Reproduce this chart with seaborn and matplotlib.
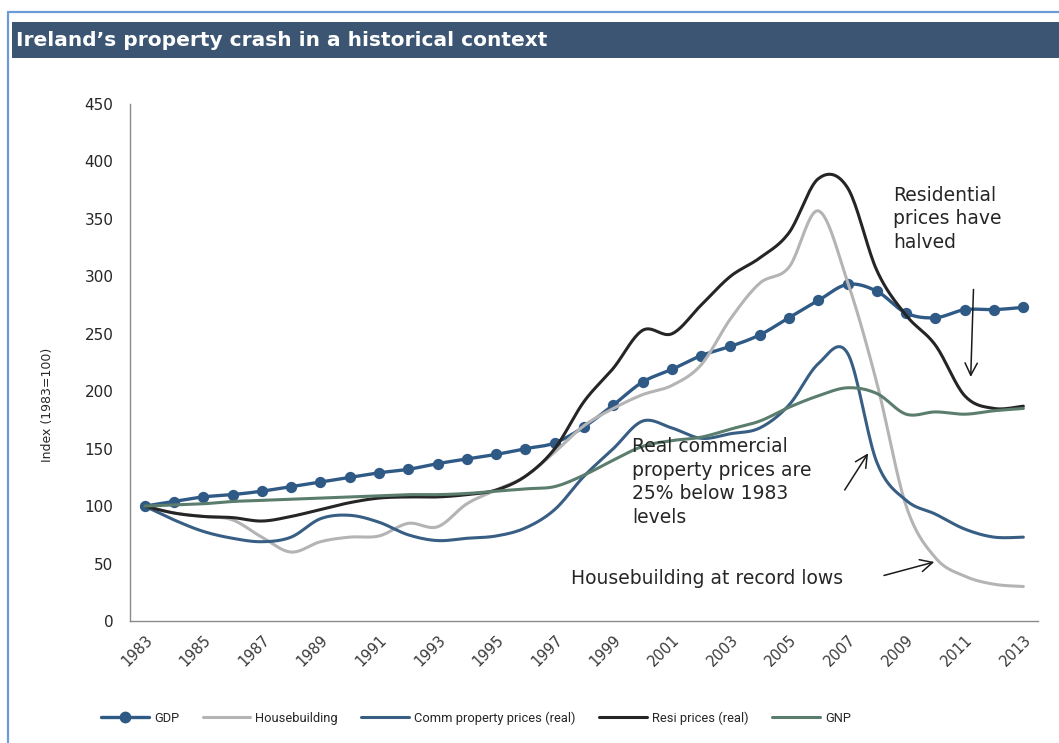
import numpy as np
import pandas as pd
import matplotlib
matplotlib.use("Agg")
import matplotlib.pyplot as plt
from matplotlib.lines import Line2D
from matplotlib.patches import Rectangle
from matplotlib import font_manager
import seaborn as sns

# ---- data (index, 1983 = 100) ----
years = list(range(1983, 2014))
gdp = [100, 104, 108, 110, 113, 117, 121, 125, 129, 132, 137, 141, 145, 150, 155,
       169, 188, 208, 219, 231, 239, 249, 264, 279, 293, 287, 268, 264, 271, 271, 273]
housebuilding = [100, 94, 91, 88, 73, 60, 69, 73, 74, 85, 82, 102, 114, 126, 147,
                 170, 185, 197, 205, 223, 263, 294, 308, 357, 295, 207, 100, 55, 39, 32, 30]
comm_prices = [100, 88, 78, 72, 69, 73, 89, 92, 86, 75, 70, 72, 74, 81, 97,
               126, 150, 174, 168, 159, 163, 168, 188, 224, 233, 138, 105, 93, 80, 73, 73]
resi_prices = [100, 94, 91, 90, 87, 91, 97, 103, 107, 108, 108, 110, 114, 126, 150,
               191, 220, 253, 250, 275, 300, 316, 338, 385, 377, 305, 266, 240, 196, 185, 187]
gnp = [100, 101, 102, 104, 105, 106, 107, 108, 109, 110, 110, 111, 113, 115, 117,
       127, 140, 152, 157, 160, 167, 174, 186, 196, 203, 198, 180, 182, 180, 183, 185]

series_names = ["GDP", "Housebuilding", "Comm property prices (real)",
                "Resi prices (real)", "GNP"]
series_values = [gdp, housebuilding, comm_prices, resi_prices, gnp]
colors = {
    "GDP": "#2f5a86",
    "Housebuilding": "#b4b4b4",
    "Comm property prices (real)": "#385e84",
    "Resi prices (real)": "#252525",
    "GNP": "#5b7d6d",
}
widths = {
    "GDP": 2.4,
    "Housebuilding": 2.2,
    "Comm property prices (real)": 2.2,
    "Resi prices (real)": 2.2,
    "GNP": 2.2,
}


def smooth_curve(xs, ys, n=20):
    """Bezier smoothing through every point, in the style of spreadsheet smoothed lines."""
    pts = np.column_stack([xs, ys]).astype(float)
    ext = np.vstack([pts[0], pts, pts[-1]])
    out = []
    t = np.linspace(0, 1, n, endpoint=False)[:, None]
    for i in range(1, len(ext) - 2):
        p0, p1, p2, p3 = ext[i - 1], ext[i], ext[i + 1], ext[i + 2]
        c1 = p1 + (p2 - p0) / 6.0
        c2 = p2 - (p3 - p1) / 6.0
        seg = ((1 - t) ** 3) * p1 + 3 * ((1 - t) ** 2) * t * c1 \
            + 3 * (1 - t) * t ** 2 * c2 + t ** 3 * p2
        out.append(seg)
    out.append(pts[-1][None, :])
    arr = np.vstack(out)
    return arr[:, 0], arr[:, 1]


sns.set_theme(style="white")
plt.rcParams["font.family"] = ["DejaVu Sans"]

installed = {f.name for f in font_manager.fontManager.ttflist}
narrow_family = ["Liberation Sans Narrow"] if "Liberation Sans Narrow" in installed \
    else ["Roboto"] if "Roboto" in installed else ["DejaVu Sans"]

W, H = 1059, 743
fig = plt.figure(figsize=(W / 100, H / 100), dpi=100)
fig.patch.set_facecolor("white")

# frame and heading band
fig.add_artist(Line2D([8 / W, 8 / W], [0, 1 - 12 / H], color="#6d9bd8", lw=1.6))
fig.add_artist(Line2D([8 / W, 1], [1 - 12 / H, 1 - 12 / H], color="#6d9bd8", lw=1.6))
fig.add_artist(Rectangle((12 / W, 1 - 58 / H), 1 - 12 / W, 36 / H,
                         transform=fig.transFigure, facecolor="#3b5573",
                         edgecolor="none"))
fig.text(16 / W, 1 - 40 / H, "Ireland\u2019s property crash in a historical context",
         color="white", fontsize=14.5, fontweight="bold", va="center", ha="left")

ax = fig.add_axes([130 / W, 1 - 621 / H, (1038 - 130) / W, (621 - 104) / H])

# smoothed lines, drawn in series order
frames = []
for name, vals in zip(series_names, series_values):
    sx, sy = smooth_curve(years, vals)
    frames.append(pd.DataFrame({"year": sx, "value": sy, "series": name}))
long_df = pd.concat(frames, ignore_index=True)

for z, name in enumerate(series_names):
    sub = long_df[long_df["series"] == name]
    sns.lineplot(data=sub, x="year", y="value", sort=False, estimator=None,
                 color=colors[name], lw=widths[name], ax=ax, zorder=3 + z,
                 legend=False)
    if name == "GDP":
        sns.scatterplot(x=years, y=gdp, color=colors[name], s=66, ax=ax,
                        edgecolor=colors[name], linewidth=0, zorder=3.5,
                        legend=False)

ax.set_xlim(1982.5, 2013.5)
ax.set_ylim(0, 450)
ax.set_xlabel("")
ax.set_ylabel("")

for side in ["top", "right"]:
    ax.spines[side].set_visible(False)
for side in ["left", "bottom"]:
    ax.spines[side].set_color("#8a8a8a")
    ax.spines[side].set_linewidth(1.0)

ax.set_yticks(np.arange(0, 451, 50))
ax.tick_params(axis="y", direction="in", length=5, width=1, color="#8a8a8a",
               labelsize=11, labelcolor="#262626", pad=12)

label_years = years[::2]
ax.set_xticks(label_years)
ax.set_xticklabels([str(y) for y in label_years], rotation=45, ha="right",
                   rotation_mode="anchor", fontsize=10.5, color="#3a3a3a")
ax.set_xticks(np.arange(1982.5, 2014, 1.0), minor=True)
ax.tick_params(axis="x", which="major", length=0, pad=8)
ax.tick_params(axis="x", which="minor", direction="in", length=5, width=1,
               color="#8a8a8a")
ax.grid(False)

fig.text(48 / W, 1 - 405 / H, "Index (1983=100)", rotation=90, fontsize=9,
         va="center", ha="center", color="#262626")

# annotations
txt_kw = dict(fontsize=13.5, color="#262626", ha="left", va="top", linespacing=1.3)
ax.text(2008.55, 379, "Residential\nprices have\nhalved", zorder=10, **txt_kw)
ax.annotate("", xy=(2011.2, 210), xytext=(2011.3, 291),
            arrowprops=dict(arrowstyle="->", color="#1a1a1a", lw=1.1,
                            mutation_scale=22), zorder=10)

ax.text(1999.65, 160, "Real commercial\nproperty prices are\n25% below 1983\nlevels",
        zorder=10, **txt_kw)
ax.annotate("", xy=(2007.75, 148), xytext=(2006.85, 112),
            arrowprops=dict(arrowstyle="->", color="#1a1a1a", lw=1.1,
                            mutation_scale=22), zorder=10)

ax.text(1997.55, 37, "Housebuilding at record lows", fontsize=13.5, color="#262626",
        ha="left", va="center", zorder=10)
ax.annotate("", xy=(2010.05, 52), xytext=(2008.15, 39),
            arrowprops=dict(arrowstyle="->", color="#1a1a1a", lw=1.1,
                            mutation_scale=22), zorder=10)

# legend below the plot
handles = []
for name in series_names:
    if name == "GDP":
        handles.append(Line2D([0], [0], color=colors[name], lw=widths[name],
                              marker="o", markersize=7.5, markevery=[1]))
    else:
        handles.append(Line2D([0], [0], color=colors[name], lw=widths[name]))
leg = fig.legend(handles, series_names, loc="center left",
                 bbox_to_anchor=(96 / W, 1 - 718 / H), ncol=5, frameon=False,
                 prop={"family": narrow_family, "size": 9.3},
                 handlelength=3.7, handletextpad=0.4,
                 columnspacing=1.8, borderaxespad=0)
for t in leg.get_texts():
    t.set_color("#262626")

fig.savefig("out.png", dpi=100, facecolor="white")
